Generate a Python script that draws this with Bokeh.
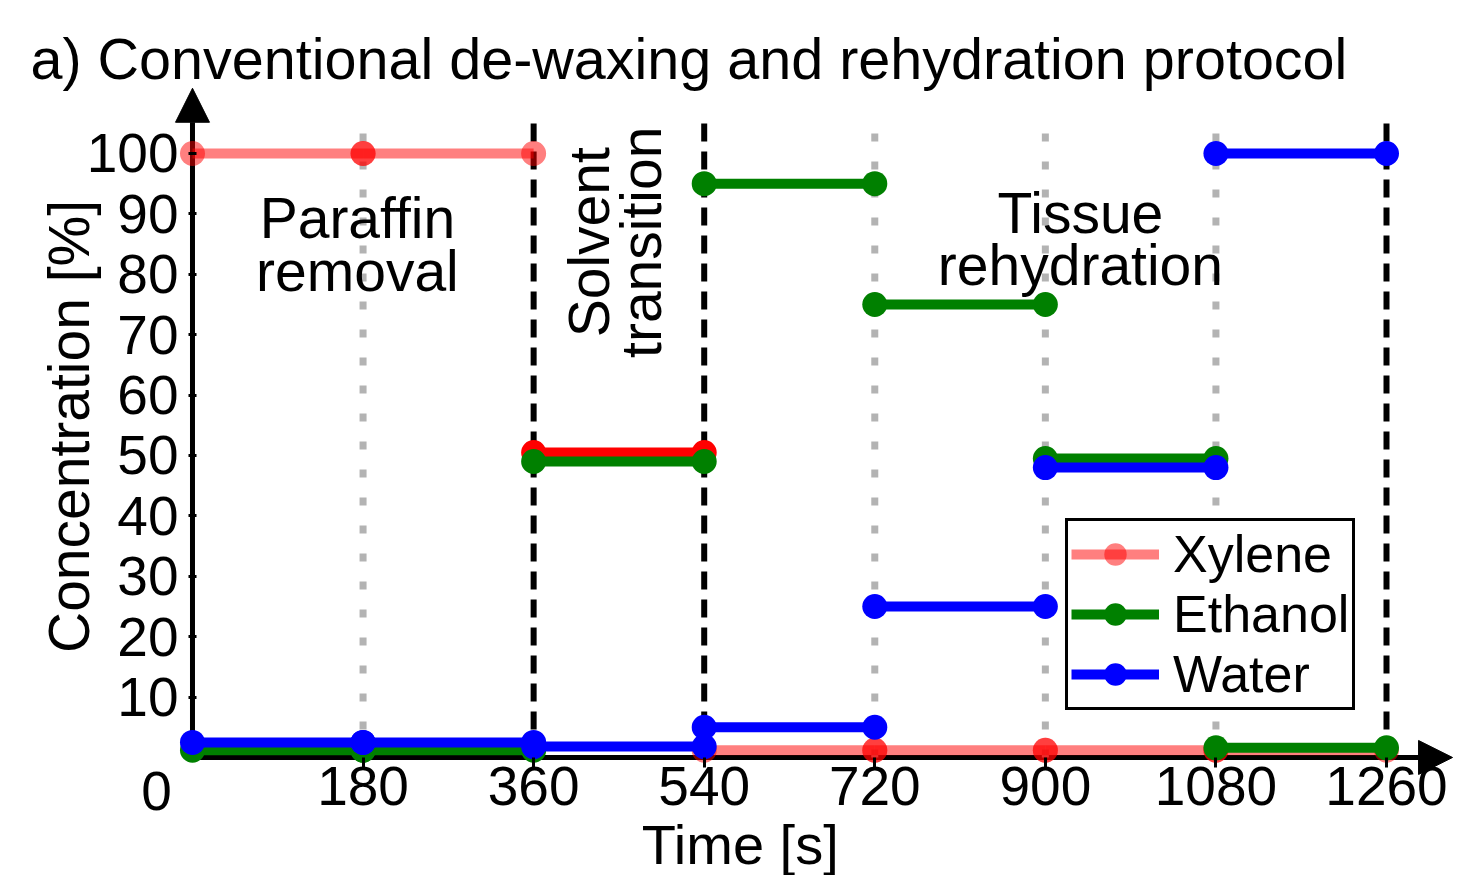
import math
from bokeh.plotting import figure
from bokeh.models import (Range1d, Label, Arrow, NormalHead, Legend, LegendItem,
                          ColumnDataSource, FixedTicker)
from bokeh.embed import file_html
from bokeh.resources import INLINE

# ---------------- data ----------------
step_start = [0, 180, 360, 540, 720, 900, 1080]
step_end = [180, 360, 540, 720, 900, 1080, 1260]
xylene = [100, 100, 50.5, 1.2, 1.2, 1.2, 1.2]
ethanol = [1.2, 1.2, 49, 95, 75, 49.5, 1.6]
water = [2.5, 2.5, 1.8, 5, 25, 48, 100]
series_names = ["Xylene", "Ethanol", "Water"]

x_ticks = [180, 360, 540, 720, 900, 1080, 1260]
x_tick_labels = ["180", "360", "540", "720", "900", "1080", "1260"]
y_ticks = [10, 20, 30, 40, 50, 60, 70, 80, 90, 100]
phase_bounds = [360, 540, 1260]
step_bounds = [180, 720, 900, 1080]

# ---------------- styles ----------------
FONT = "Liberation Sans"
colors = ["#ff0000", "#008000", "#0000ff"]
xylene_alpha = [0.5, 0.5, 1.0, 0.5, 0.5, 0.5, 0.5]
other_alpha = [1.0] * 7

W, H = 1462, 875
p = figure(width=W, height=H,
           x_range=Range1d(-202.6, 1340.2), y_range=Range1d(-19.54, 125.33),
           output_backend="svg", toolbar_location=None, min_border=0)
p.outline_line_color = None
p.grid.visible = False
p.background_fill_color = "white"
p.border_fill_color = "white"

# axes placed at the origin
for ax in (p.xaxis[0], p.yaxis[0]):
    ax.fixed_location = 0
    ax.axis_line_color = None
    ax.minor_tick_line_color = None
    ax.major_tick_line_color = "black"
    ax.major_tick_line_width = 3
    ax.major_label_text_font = FONT
    ax.major_label_text_font_size = "55px"
    ax.major_label_text_color = "black"

p.xaxis[0].ticker = FixedTicker(ticks=x_ticks)
p.xaxis[0].major_label_overrides = {t: l for t, l in zip(x_ticks, x_tick_labels)}
p.xaxis[0].major_tick_in = 0
p.xaxis[0].major_tick_out = 10
p.xaxis[0].major_label_standoff = 0

p.yaxis[0].ticker = FixedTicker(ticks=y_ticks)
p.yaxis[0].major_tick_in = 4
p.yaxis[0].major_tick_out = 4
p.yaxis[0].major_label_standoff = 10

# axis lines with arrow heads (under the data)
p.add_layout(Arrow(end=NormalHead(size=34, fill_color="black", line_color="black"),
                   x_start=0, y_start=0, x_end=0, y_end=110.8,
                   line_color="black", line_width=5, level="underlay"))
p.add_layout(Arrow(end=NormalHead(size=34, fill_color="black", line_color="black"),
                   x_start=0, y_start=0, x_end=1329.7, y_end=0,
                   line_color="black", line_width=5, level="underlay"))

# vertical step / phase markers
p.segment(x0=step_bounds, x1=step_bounds, y0=[0] * len(step_bounds), y1=[106] * len(step_bounds),
          line_color="#b3b3b3", line_width=7, line_dash="8 20")
p.segment(x0=phase_bounds, x1=phase_bounds, y0=[0] * len(phase_bounds), y1=[106] * len(phase_bounds),
          line_color="black", line_width=6, line_dash="18 10")

# series
items = []
for name, vals, color, alphas in zip(series_names, [xylene, ethanol, water], colors,
                                     [xylene_alpha, other_alpha, other_alpha]):
    src = ColumnDataSource(dict(x0=step_start, x1=step_end, y=vals, a=alphas))
    seg = p.segment(x0="x0", y0="y", x1="x1", y1="y", line_color=color, line_width=10,
                    line_alpha="a", source=src)
    pts = ColumnDataSource(dict(x=step_start + step_end, y=vals + vals, a=alphas + alphas))
    sc = p.scatter(x="x", y="y", size=25, fill_color=color, line_color=None,
                   fill_alpha="a", source=pts)
    items.append(LegendItem(label=name, renderers=[seg, sc], index=0))

legend = Legend(items=items, location=(1065, 165),
                label_text_font=FONT, label_text_font_size="52px", label_text_color="black",
                glyph_width=88, glyph_height=56, label_standoff=14,
                padding=3, spacing=0, margin=0,
                border_line_color="black", border_line_width=3, border_line_alpha=1.0,
                background_fill_color="white", background_fill_alpha=1.0)
p.add_layout(legend, "center")

# texts
def lab(text, x, y, **kw):
    d = dict(text_font=FONT, text_font_size="57px", text_color="black")
    d.update(kw)
    p.add_layout(Label(x=x, y=y, text=text, **d))

lab("a) Conventional de-waxing and rehydration protocol", -171, 115.7,
    text_align="left", text_baseline="middle", text_font_size="57.5px")
lab("Paraffin\nremoval", 174, 84.9, text_align="center", text_baseline="middle",
    text_line_height=0.82)
lab("Solvent\ntransition", 446, 85.3, text_align="center", text_baseline="middle",
    text_line_height=0.82, angle=math.pi / 2)
lab("Tissue\nrehydration", 937, 85.8, text_align="center", text_baseline="middle",
    text_line_height=0.82)
lab("Time [s]", 578, -14.4, text_align="center", text_baseline="middle",
    text_font_size="56px")
lab("Concentration [%]", -129.8, 54.8, text_align="center", text_baseline="middle",
    angle=math.pi / 2)
lab("0", -38, -5.5, text_align="center", text_baseline="middle", text_font_size="55px")

open("out.html", "w").write(file_html(p, INLINE))
